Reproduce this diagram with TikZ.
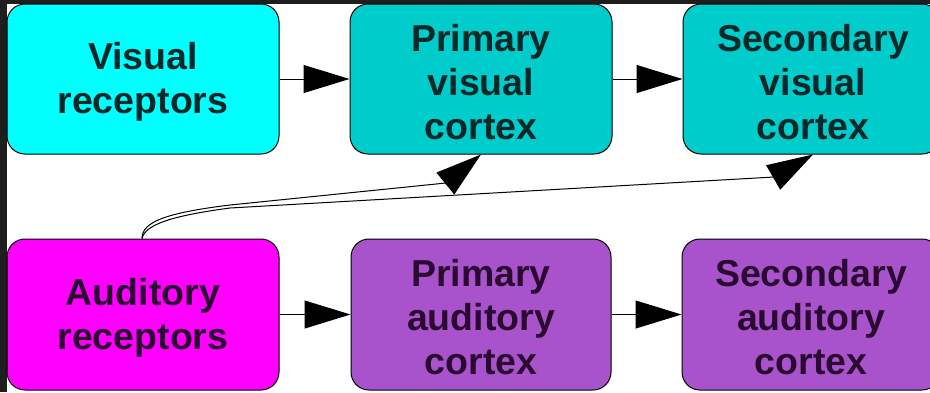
\documentclass[tikz,border=0pt]{standalone}
\usepackage{fontspec}
\setmainfont{Liberation Sans}
\usetikzlibrary{arrows.meta}
\definecolor{frameclr}{HTML}{1E1E1E}
\definecolor{cyanA}{HTML}{00FFFF}
\definecolor{tealB}{HTML}{00CCCC}
\definecolor{magA}{HTML}{FF00FF}
\definecolor{purB}{HTML}{A852CC}
\definecolor{txtT}{HTML}{0A2828}
\definecolor{txtP}{HTML}{2A0A30}
\begin{document}
\begin{tikzpicture}[x=1pt,y=-1pt,
  box/.style={draw=black, line width=1pt, rounded corners=18pt, inner sep=0pt},
  toprow/.style={box, minimum height=150pt},
  botrow/.style={box, minimum height=151pt},
  boxtext/.style={inner sep=0pt, align=center, yshift=-3pt,
    font=\fontsize{37.5}{44}\selectfont\bfseries},
  conn/.style={line width=1pt, -{Triangle[length=46pt,width=28pt]}},
  wire/.style={line width=1pt}]
\useasboundingbox (0,0) rectangle (930,392);
\fill[frameclr] (0,0) rectangle (930,392);
\fill[white] (7,4) rectangle (930,392);
\begin{scope}
\clip (0,0) rectangle (930,392);
% top row
\node[toprow, fill=cyanA, minimum width=272pt] (vr) at (143,79) {};
\node[toprow, fill=tealB, minimum width=262pt] (pv) at (481,79) {};
\node[toprow, fill=tealB, minimum width=257pt] (sv) at (811.5,79) {};
% bottom row
\node[botrow, fill=magA, minimum width=272pt] (ar) at (143,314.5) {};
\node[botrow, fill=purB, minimum width=260pt] (pa) at (481,314.5) {};
\node[botrow, fill=purB, minimum width=258pt] (sa) at (811,314.5) {};
% texts
\node[boxtext, text=txtT] (vrt) at (vr.center) {Visual\\receptors};
\node[boxtext, text=txtT] (pvt) at (pv.center) {Primary\\visual\\cortex};
\node[boxtext, text=txtT] (svt) at ([xshift=1.5pt]sv.center) {Secondary\\visual\\cortex};
\node[boxtext, text=txtP] (art) at (ar.center) {Auditory\\receptors};
\node[boxtext, text=txtP] (pat) at (pa.center) {Primary\\auditory\\cortex};
\node[boxtext, text=txtP] (sat) at (sa.center) {Secondary\\auditory\\cortex};
% horizontal connectors
\draw[conn] (vr.east) -- (pv.west);
\draw[conn] (pv.east) -- (sv.west);
\draw[conn] (ar.east) -- (pa.west);
\draw[conn] (pa.east) -- (sa.west);
% curved connectors
\coordinate (st) at ([xshift=-1pt]ar.north);
\coordinate (ha) at (446,183);
\coordinate (hb) at (774,177);
\coordinate (tb) at ([xshift=1.5pt]sv.south);
\draw[wire] (st) .. controls (142,222) and (165,213) .. (230,205) -- (ha);
\draw[wire] (st) .. controls (145,225) and (170,216) .. (230,208) -- (hb);
\draw[conn] (ha) -- (pv.south);
\draw[conn] (hb) -- (tb);
\end{scope}
\end{tikzpicture}
\end{document}
